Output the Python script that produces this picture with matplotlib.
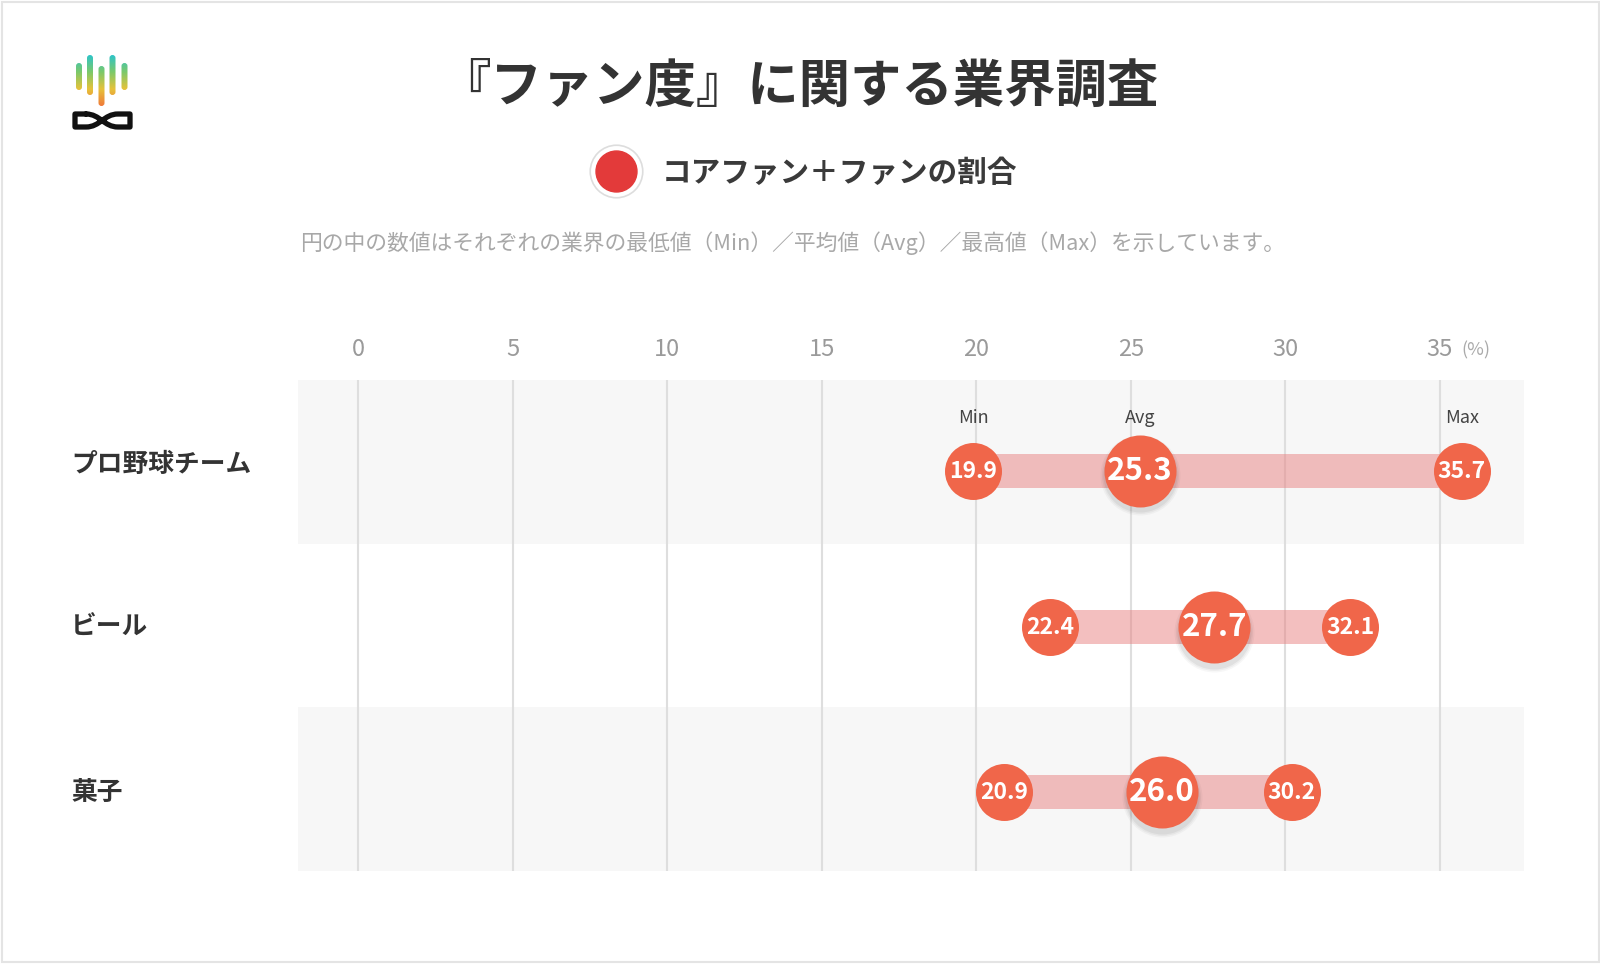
import numpy as np
import matplotlib
matplotlib.use("Agg")
import matplotlib.pyplot as plt
import matplotlib.transforms as mtransforms
from matplotlib.path import Path
from matplotlib.patches import PathPatch, FancyBboxPatch, Rectangle

plt.rcParams['font.family'] = ['Noto Sans CJK JP', 'DejaVu Sans']

# data
categories = ['プロ野球チーム', 'ビール', '菓子']
min_vals = [19.9, 22.4, 20.9]
avg_vals = [25.3, 27.7, 26.0]
max_vals = [35.7, 32.1, 30.2]
ticks = [0, 5, 10, 15, 20, 25, 30, 35]

title = '『ファン度』に関する業界調査'
legend_label = 'コアファン＋ファンの割合'
note = '円の中の数値はそれぞれの業界の最低値（Min）／平均値（Avg）／最高値（Max）を示しています。'

W, H = 1600, 964
fig = plt.figure(figsize=(W / 100, H / 100), dpi=100)
fig.patch.set_facecolor('white')

# overlay axes in pixel coords for decorations
deco = fig.add_axes([0, 0, 1, 1])
deco.set_xlim(0, W)
deco.set_ylim(H, 0)
deco.axis('off')
deco.add_patch(Rectangle((1.5, 1.5), W - 3, H - 4, fill=False, ec='#e4e4e4', lw=1.5))

# logo: gradient bars
grad = np.linspace(0, 1, 256).reshape(-1, 1)
cmap = matplotlib.colors.LinearSegmentedColormap.from_list(
    'logo', ['#2ec4c9', '#7cc96a', '#e6c23a', '#f07a3a'])
bars = [(79, 63, 90), (90, 55, 95), (101.5, 66, 106), (112.5, 55, 95), (124.5, 63, 90)]
for cx, y0, y1 in bars:
    clip = FancyBboxPatch((cx - 3, y0), 6, y1 - y0, boxstyle='round,pad=0,rounding_size=3',
                          fc='none', ec='none', transform=deco.transData)
    deco.add_patch(clip)
    im = deco.imshow(grad, cmap=cmap, extent=[cx - 3.2, cx + 3.2, 106, 55],
                     aspect='auto', interpolation='bilinear', zorder=2)
    im.set_clip_path(clip)

# logo: infinity-ish shape
top, bot = 114, 127
verts = [(86, top), (75, top), (75, bot), (86, bot),
         (100, bot), (104, top), (118, top),
         (130, top), (130, bot), (118, bot),
         (104, bot), (100, top), (86, top)]
codes = [Path.MOVETO, Path.LINETO, Path.LINETO, Path.LINETO,
         Path.CURVE4, Path.CURVE4, Path.CURVE4,
         Path.LINETO, Path.LINETO, Path.LINETO,
         Path.CURVE4, Path.CURVE4, Path.CURVE4]
deco.add_patch(PathPatch(Path(verts, codes), fc='none', ec='#111111', lw=3.8,
                         joinstyle='round', capstyle='round'))

# title, legend, note
deco.text(799, 86, title, ha='center', va='center', fontsize=37, fontweight='bold', color='#333333')
deco.scatter([616], [171], s=1430, c='white', edgecolors='#dddddd', linewidths=1.2, zorder=3)
deco.scatter([616], [171], s=870, c='#e33a3a', zorder=4)
deco.text(662, 173, legend_label, ha='left', va='center', fontsize=21.3, fontweight='bold', color='#3a3a3a')
deco.text(793, 243, note, ha='center', va='center', fontsize=15.7, color='#a8a8a8')

# main chart axes
x_left, x_right = 298, 1524
y_top, y_bot = 380, 871
ax = fig.add_axes([x_left / W, 1 - y_bot / H, (x_right - x_left) / W, (y_bot - y_top) / H])
ppu = (1440 - 358) / 35
ax.set_xlim(-(358 - x_left) / ppu, 35 + (x_right - 1440) / ppu)
ax.set_ylim(2.5, -0.5)
ax.axis('off')

y = np.arange(len(categories))
y_marks = y + np.array([0.058, 0.012, 0.02])
y_labels = y + np.array([0.018, 0.012, 0.02])

for i in y:
    if i % 2 == 0:
        ax.axhspan(i - 0.5, i + 0.5, color='#f7f7f7', zorder=0, lw=0)
tick_y = 1 + 30 / (y_bot - y_top)
for t in ticks:
    ax.axvline(t, color='#dedede', lw=1.5, zorder=1)
    ax.text(t, tick_y, str(t), transform=ax.get_xaxis_transform(),
            ha='center', va='center', fontsize=17, color='#9a9a9a')
ax.text(35 + 0.7, tick_y, '(%)', transform=ax.get_xaxis_transform(),
        ha='left', va='center', fontsize=13, color='#aaaaaa')

bar_h = 34 / ((y_bot - y_top) / 3)
ax.barh(y_marks, np.array(max_vals) - np.array(min_vals), left=min_vals, height=bar_h,
        color='#e88080', alpha=0.5, lw=0, zorder=2)

dot_col = '#f0664a'
small_s = (57 * 0.72) ** 2
big_s = (72 * 0.72) ** 2

# soft shadow under avg circles
tr = mtransforms.offset_copy(ax.transData, fig=fig, x=0, y=-3, units='points')
for k, a in [(8, 0.03), (5, 0.04), (2, 0.05)]:
    ax.scatter(avg_vals, y_marks, s=((72 + k) * 0.72) ** 2, c='black', alpha=a,
               lw=0, zorder=3, transform=tr)

ax.scatter(min_vals, y_marks, s=small_s, c=dot_col, lw=0, zorder=4)
ax.scatter(max_vals, y_marks, s=small_s, c=dot_col, lw=0, zorder=4)
ax.scatter(avg_vals, y_marks, s=big_s, c=dot_col, lw=0, zorder=4)

label_x = -(358 - 71) / ppu
for i in y:
    ax.text(min_vals[i], y_marks[i], f'{min_vals[i]:.1f}', ha='center', va='center', fontsize=16.5,
            fontweight='bold', color='white', zorder=5)
    ax.text(max_vals[i], y_marks[i], f'{max_vals[i]:.1f}', ha='center', va='center', fontsize=16.5,
            fontweight='bold', color='white', zorder=5)
    ax.text(avg_vals[i], y_marks[i], f'{avg_vals[i]:.1f}', ha='center', va='center', fontsize=22.5,
            fontweight='bold', color='white', zorder=5)
    ax.text(label_x, y_labels[i], categories[i], ha='left', va='center',
            fontsize=18.5, fontweight='bold', color='#333333', clip_on=False)

# Min / Avg / Max headers on first row
for lab, v in zip(['Min', 'Avg', 'Max'], [min_vals[0], avg_vals[0], max_vals[0]]):
    ax.text(v, -0.265, lab, ha='center', va='center', fontsize=13, color='#444444')

fig.savefig('out.png', dpi=100, facecolor='white')
